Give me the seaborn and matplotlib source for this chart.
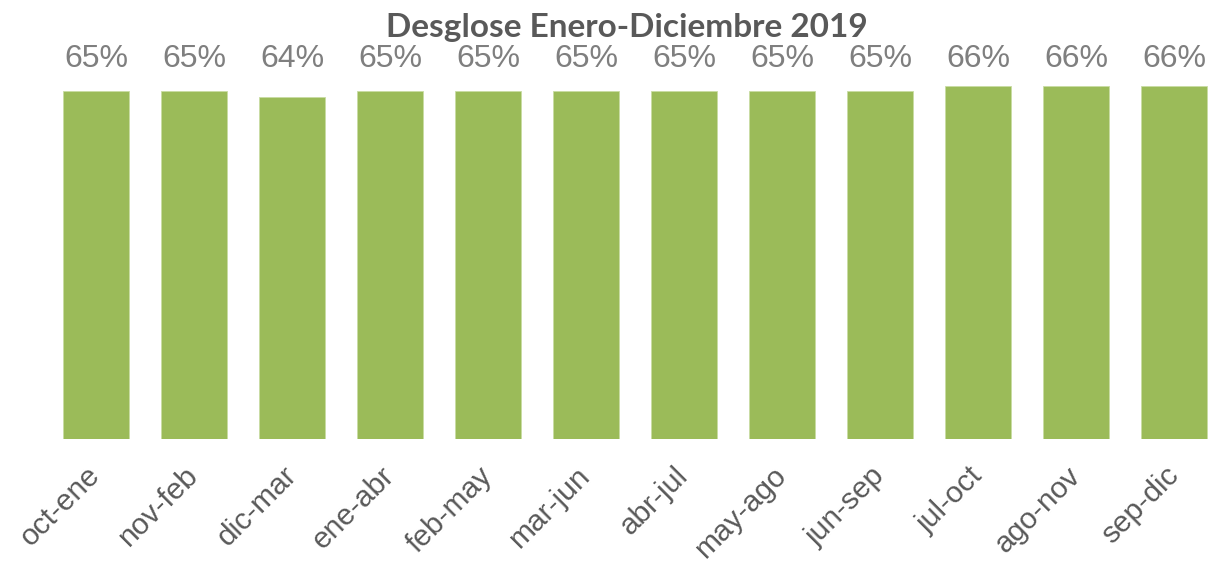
import matplotlib
matplotlib.use("Agg")
import matplotlib.pyplot as plt
import seaborn as sns
import pandas as pd

periodos = ["oct-ene", "nov-feb", "dic-mar", "ene-abr", "feb-may", "mar-jun",
            "abr-jul", "may-ago", "jun-sep", "jul-oct", "ago-nov", "sep-dic"]
valores = [0.650, 0.650, 0.639, 0.650, 0.650, 0.650,
           0.650, 0.650, 0.650, 0.660, 0.660, 0.660]
etiquetas = ["65%", "65%", "64%", "65%", "65%", "65%",
             "65%", "65%", "65%", "66%", "66%", "66%"]

df = pd.DataFrame({"periodo": periodos, "valor": valores})

sns.set_style("white")
plt.rcParams["font.family"] = ["Liberation Sans", "DejaVu Sans"]

fig = plt.figure(figsize=(12.15, 5.66), dpi=100)
ax = fig.add_axes([0, 0.2239, 1, 0.7761])

sns.barplot(data=df, x="periodo", y="valor", color="#9BBB59", saturation=1,
            width=0.667, ax=ax, edgecolor="#C9DCA3", linewidth=0.6)

ax.set_xlim(-0.98, 11.418)
ax.set_ylim(0, 0.82)

# etiquetas alineadas a la misma altura
for i, t in enumerate(etiquetas):
    ax.text(i, 0.681, t, ha="center", va="bottom", fontsize=23, color="#7F7F7F")

ax.set_xticks(range(len(periodos)))
ax.set_xticklabels(periodos, rotation=45, ha="right", va="center",
                   rotation_mode="anchor", fontsize=21.5, color="#595959")
ax.tick_params(axis="x", length=0, pad=23)
ax.set_yticks([])
ax.set_xlabel("")
ax.set_ylabel("")
sns.despine(ax=ax, left=True, bottom=True)

fig.text(0.516, 0.977, "Desglose Enero-Diciembre 2019", ha="center", va="top",
         fontsize=24, fontweight="bold", color="#595959", family=["Lato", "DejaVu Sans"])

fig.savefig("out.png", dpi=100)
